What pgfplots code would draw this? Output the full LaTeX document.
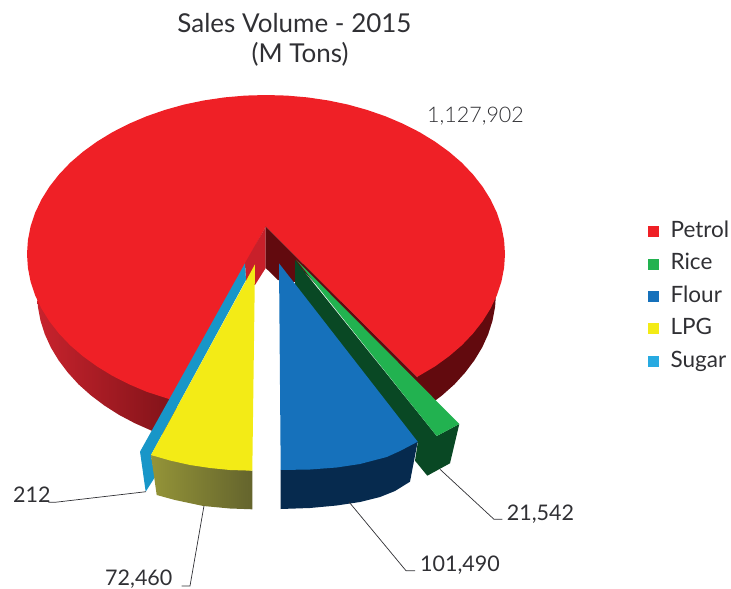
\documentclass[border=0pt]{standalone}
\usepackage{pgfplots}
\pgfplotsset{compat=1.18}
\usepackage{fontspec}
\setmainfont{Lato}
\newfontfamily\lightf{Lato Light}
\definecolor{txt}{RGB}{48,48,52}
\definecolor{cpetrol}{RGB}{239,32,38}
\definecolor{cwallL}{RGB}{200,35,45}
\definecolor{cwallD}{RGB}{125,18,24}
\definecolor{cwallR}{RGB}{98,10,14}
\definecolor{cinL}{RGB}{200,32,42}
\definecolor{cgreen}{RGB}{34,178,80}
\definecolor{cgreenD}{RGB}{9,72,36}
\definecolor{cblue}{RGB}{22,113,187}
\definecolor{cblueD}{RGB}{6,42,78}
\definecolor{cyel}{RGB}{243,235,22}
\definecolor{cyelL}{RGB}{148,148,56}
\definecolor{cyelD}{RGB}{100,100,45}
\definecolor{csugar}{RGB}{24,150,200}
\definecolor{clegs}{RGB}{40,170,225}
\begin{document}
\begin{tikzpicture}[x=1pt,y=1pt]
\useasboundingbox (0,0) rectangle (731pt,589pt);
\begin{axis}[at={(0,0)},anchor=south west,scale only axis,width=731pt,height=589pt,
 xmin=0,xmax=731,ymin=0,ymax=589,y dir=reverse,hide axis,clip=false,
 legend image code/.code={\fill[#1] (0pt,-4.3pt) rectangle (10pt,5.7pt);},
 legend style={at={(axis cs:648,221.3)},anchor=north west,draw=none,fill=none,
   font=\fontsize{22.5}{22.5}\selectfont\color{txt},row sep=11.4pt,inner sep=0pt,
   nodes={inner sep=0pt,text height=16pt,text depth=5pt}},
 legend cell align=left]
\addlegendimage{color=cpetrol}
\addlegendentry{\hspace*{12pt}Petrol}
\addlegendimage{color=cgreen}
\addlegendentry{\hspace*{12pt}Rice}
\addlegendimage{color=cblue}
\addlegendentry{\hspace*{12pt}Flour}
\addlegendimage{color=cyel}
\addlegendentry{\hspace*{12pt}LPG}
\addlegendimage{color=clegs}
\addlegendentry{\hspace*{12pt}Sugar}
% left outer wall of Petrol
\addplot[forget plot,draw=none,left color=cwallL,right color=cwallD] coordinates {
(37,293)(37.9,306.8)(40.5,320.7)(44.8,334.2)(50.8,347.4)(58.6,360.3)(67.8,372.5)(78.5,384.3)(90.7,395.2)(104.2,405.4)(118.9,414.8)(134.8,423.2)(151.7,430.7)(169.4,437.1)(180,395)(60,300)(37,285)};
% right outer wall of Petrol
\addplot[forget plot,draw=none,fill=cwallR] coordinates {
(505,254)(496,293)(495.1,306.8)(492.5,320.7)(488.2,334.2)(482.2,347.4)(474.4,360.3)(465.2,372.5)(454.5,384.3)(442.3,395.2)(428.8,405.4)(417,377)};
% Petrol top
\addplot[forget plot,draw=none,fill=cpetrol] coordinates {
(265.7,226.7)(417,377)(435,366.4)(449.1,356.2)(461.8,345.3)(473,333.5)(482.6,321.3)(490.6,308.4)(496.9,295.2)(501.4,281.7)(504.1,267.8)(505,254)
(504.1,240.2)(501.4,226.3)(496.9,212.8)(490.6,199.6)(482.6,186.7)(473,174.5)(461.8,162.7)(449.1,151.8)(435,141.6)(419.6,132.2)(403.1,123.8)(385.5,116.3)(367,109.9)(347.7,104.5)(327.9,100.4)(307.5,97.4)(286.8,95.6)(266,95)
(245.2,95.6)(224.5,97.4)(204.1,100.4)(184.3,104.5)(165,109.9)(146.5,116.3)(128.9,123.8)(112.4,132.2)(97,141.6)(82.9,151.8)(70.2,162.7)(59,174.5)(49.4,186.7)(41.4,199.6)(35.1,212.8)(30.6,226.3)(27.9,240.2)(27,254)
(27.9,267.8)(30.6,281.7)(35.1,295.2)(41.4,308.4)(49.4,321.3)(59,333.5)(70.2,345.3)(82.9,356.2)(97,366.4)(112.4,375.8)(128.9,384.2)(146.5,391.7)(172,400)};
% Petrol inner walls
\addplot[forget plot,draw=none,fill=cinL] coordinates {(265.7,226.7)(245,263)(246,283)(255,285)(265.7,268)};
\addplot[forget plot,draw=none,fill=cwallR] coordinates {(265.7,226.7)(417,377)(437,404)(350,320)(295,262)(295,282)(278,280)(265.7,268)};
% Rice
\addplot[forget plot,draw=none,fill=cgreenD] coordinates {(295,260)(436.7,436)(459.3,424)(450,463.3)(427.3,475.7)(415,460.7)(417.7,443)(295,287)};
\addplot[forget plot,draw=none,fill=cgreen] coordinates {(296,259.5)(459.3,424)(436.7,436)};
% Sugar
\addplot[forget plot,draw=none,fill=csugar] coordinates {(245,263.3)(246,280)(151,455)(155,477)(145.7,491.7)(140,451.7)};
% Flour
\addplot[forget plot,draw=none,fill=cblueD] coordinates {(417.7,441.7)(410,481.7)(395,491)(380,497)(360,502)(336.7,505.5)(310,508)(280.7,509)(280.7,470)};
\addplot[forget plot,draw=none,fill=cblue] coordinates {(279,263.3)(417.7,441.7)(400,451)(386.7,457)(360,464)(336.7,467.5)(310,469.5)(280.7,470)};
% LPG
\addplot[forget plot,draw=none,left color=cyelL,right color=cyelD] coordinates {(151,455)(156.7,495)(175,500)(203.3,506)(230,508.5)(252.3,509.3)(252.3,470.7)};
\addplot[forget plot,draw=none,fill=cyel] coordinates {(255,264.3)(151,455)(170,460.5)(190,465)(210,468)(230,470)(252.3,470.7)};
% leader lines
\addplot[forget plot,line width=0.7pt,color=txt] coordinates {(48.3,502.3)(55,502.3)(146,491.7)};
\addplot[forget plot,line width=0.7pt,color=txt] coordinates {(181.7,586)(190,586)(204,505.7)};
\addplot[forget plot,line width=0.7pt,color=txt] coordinates {(349.3,502.3)(406,570.7)(415,570.7)};
\addplot[forget plot,line width=0.7pt,color=txt] coordinates {(440,469.3)(494,519.3)(502.3,519.3)};
% text
\node[anchor=base,text=txt,font=\fontsize{26}{26}\selectfont] at (axis cs:294.5,32) {Sales Volume - 2015};
\node[anchor=base,text=txt,font=\fontsize{26}{26}\selectfont] at (axis cs:300,62) {(M Tons)};
\node[anchor=base west,inner sep=0pt,text=txt,font=\lightf\fontsize{21.5}{21.5}\selectfont] at (axis cs:427,122) {1,127,902};
\node[anchor=base west,inner sep=0pt,text=txt,font=\fontsize{21.5}{21.5}\selectfont] at (axis cs:13,502) {212};
\node[anchor=base west,inner sep=0pt,text=txt,font=\fontsize{21.5}{21.5}\selectfont] at (axis cs:105,585) {72,460};
\node[anchor=base west,inner sep=0pt,text=txt,font=\fontsize{21.5}{21.5}\selectfont] at (axis cs:420,571) {101,490};
\node[anchor=base west,inner sep=0pt,text=txt,font=\fontsize{21.5}{21.5}\selectfont] at (axis cs:506.7,520) {21,542};
\end{axis}
\end{tikzpicture}
\end{document}
